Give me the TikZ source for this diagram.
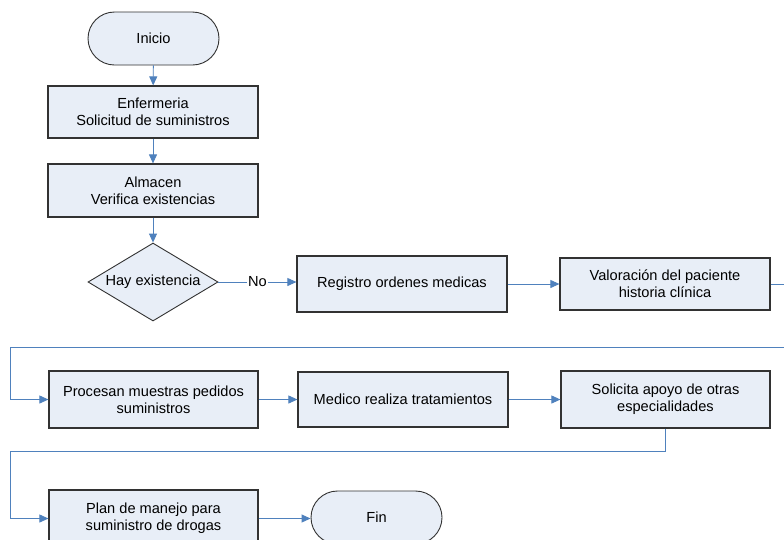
\documentclass[tikz,border=0pt]{standalone}
\usepackage{fontspec}
\setmainfont{Liberation Sans}
\usetikzlibrary{shapes.geometric,shapes.misc,arrows.meta}
\definecolor{boxfill}{RGB}{232,238,247}
\definecolor{boxline}{RGB}{50,50,50}
\definecolor{flow}{RGB}{79,129,189}
\begin{document}
\begin{tikzpicture}[x=1pt,y=-1pt,
  every node/.style={font=\fontsize{14.6}{16.8}\selectfont, align=center, inner sep=0pt},
  procbox/.style={rectangle, draw=boxline, line width=1.2pt, fill=boxfill, minimum width=210pt},
  terminal/.style={rounded rectangle, draw=boxline, line width=0.9pt, fill=boxfill, minimum width=131pt, minimum height=53pt},
  decision/.style={diamond, aspect=1.667, draw=boxline, line width=0.9pt, fill=boxfill, minimum width=130pt, minimum height=78pt},
  link/.style={draw=flow, line width=0.9pt},
  arr/.style={link, -{Triangle[length=9pt,width=8pt]}}]
\useasboundingbox (0,0) rectangle (784,539);
\clip (0,0) rectangle (784,539);
\fill[white] (0,0) rectangle (784,539);

% first column
\node[terminal] (inicio) at (153.5,38.5) {Inicio};
\node[procbox, minimum height=52pt] (enf) at (153,112) {Enfermeria\\Solicitud de suministros};
\node[procbox, minimum height=53pt] (alm) at (153,190.5) {Almacen\\Verifica existencias};
\node[decision] (dia) at (153,282) {Hay existencia};

% first row
\node[procbox, minimum height=56pt] (reg) at (402,284) {Registro ordenes medicas};
\node[procbox, minimum height=52pt] (val) at (665,284) {Valoración del paciente\\historia clínica};

% second row
\node[procbox, minimum height=57pt, minimum width=209pt] (proc) at (153.5,399.5) {Procesan muestras pedidos\\suministros};
\node[procbox, minimum height=55pt] (med) at (403,399.5) {Medico realiza tratamientos};
\node[procbox, minimum height=57pt, minimum width=209pt] (sol) at (665.5,399.5) {Solicita apoyo de otras\\especialidades};

% third row
\node[procbox, minimum height=57pt, minimum width=209pt] (plan) at (153.5,518.5) {Plan de manejo para\\suministro de drogas};
\node[terminal] (fin) at (376.5,517.5) {Fin};

% routing points
\coordinate (vr) at (795,284);
\coordinate (vrd) at (795,347);
\coordinate (l1) at (10,347);
\coordinate (sd) at (665.5,451);
\coordinate (l2) at (10,451);

% connectors
\draw[arr] (inicio) -- (enf);
\draw[arr] (enf) -- (alm);
\draw[arr] (alm) -- (dia);
\draw[arr] (dia.east) -- node[fill=white, inner sep=1pt] (no) {No} (reg.west |- dia.east);
\draw[arr] (reg) -- (val);
\draw[arr] (val.east) -- (vr) -- (vrd) -- (l1) |- (proc.west);
\draw[arr] (proc) -- (med);
\draw[arr] (med) -- (sol);
\draw[arr] (sol.south) -- (sd) -- (l2) |- (plan.west);
\draw[arr] (plan.east) -- (fin.west |- plan.east);
\end{tikzpicture}
\end{document}
